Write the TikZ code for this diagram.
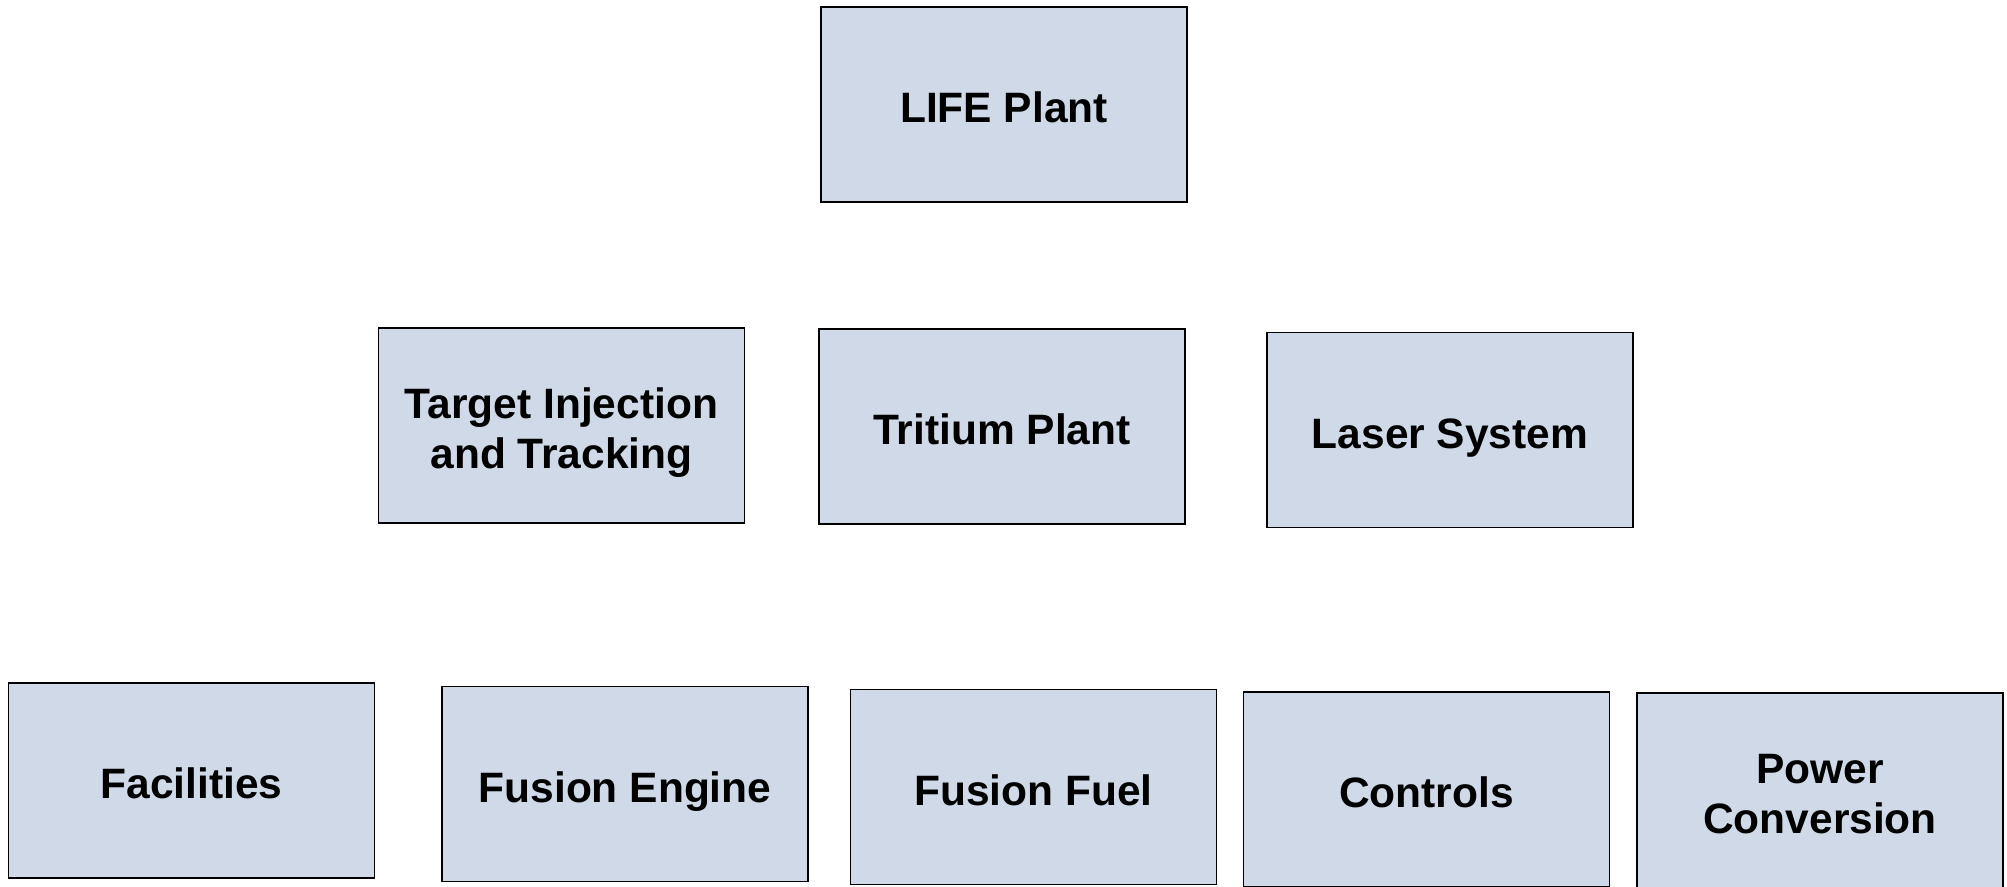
\documentclass[tikz,border=0pt]{standalone}
\usepackage{fontspec}
\setmainfont{Liberation Sans}
\definecolor{boxfill}{RGB}{207,217,232}
\begin{document}
\begin{tikzpicture}[x=1pt,y=-1pt,
  blk/.style={draw=black,line width=1.6pt,fill=boxfill,rectangle,inner sep=0pt,
    minimum width=366pt,minimum height=195pt,align=center,
    text height=39.5pt,text depth=3pt,
    font=\fontsize{42.5}{50}\selectfont\bfseries},
  twoline/.style={text height=89.5pt}]
\useasboundingbox (0,0) rectangle (2007,886);
\node[blk] (life) at (1004,104.5) {LIFE Plant};
\node[blk,twoline] (tit) at (561.5,425.5) {Target Injection\\and Tracking};
\node[blk] (trit) at (1002,426.5) {Tritium Plant};
\node[blk] (laser) at (1450,430) {Laser System};
\node[blk] (fac) at (191.5,780.5) {Facilities};
\node[blk] (feng) at (625,784) {Fusion Engine};
\node[blk] (ffuel) at (1033.5,787) {Fusion Fuel};
\node[blk] (ctrl) at (1426.5,789.5) {Controls};
\node[blk,twoline] (pc) at (1820,790.5) {Power\\Conversion};
\end{tikzpicture}
\end{document}
